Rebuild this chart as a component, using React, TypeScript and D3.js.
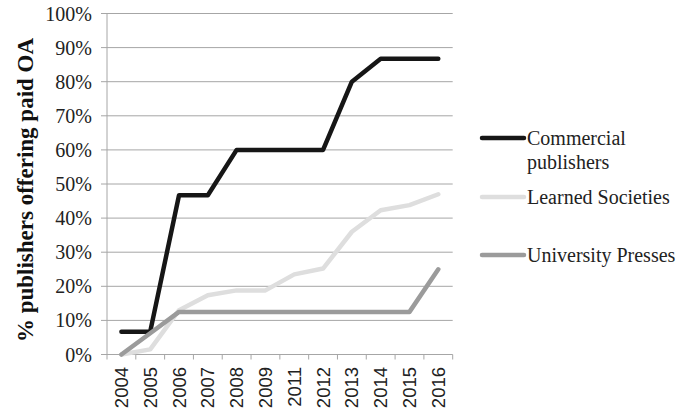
import React from 'react';
import * as d3 from 'd3';

const years = ['2004', '2005', '2006', '2007', '2008', '2009', '2011', '2012', '2013', '2014', '2015', '2016'];
const commercial = [6.7, 6.7, 46.7, 46.7, 60, 60, 60, 60, 80, 86.7, 86.7, 86.7];
const learned = [0, 1.5, 13, 17.4, 18.8, 18.8, 23.5, 25.2, 36, 42.3, 43.8, 47];
const university = [0, 6.25, 12.5, 12.5, 12.5, 12.5, 12.5, 12.5, 12.5, 12.5, 12.5, 25];
const yTicks = [0, 10, 20, 30, 40, 50, 60, 70, 80, 90, 100];

const series = [
  { name: ['Commercial', 'publishers'], values: commercial, color: '#161616', ly: 138 },
  { name: ['Learned Societies'], values: learned, color: '#dedede', ly: 197 },
  { name: ['University Presses'], values: university, color: '#9b9b9b', ly: 255 },
];

const W = 687;
const H = 415;
const left = 107;
const right = 452.7;
const top = 13.5;
const bottom = 354.5;
const serif = '"Liberation Serif"';

export default function App() {
  const x = d3.scaleBand<string>().domain(years).range([left, right]);
  const y = d3.scaleLinear().domain([0, 100]).range([bottom, top]);
  const line = d3.line<number>()
    .x((_, i) => (x(years[i]) ?? 0) + x.bandwidth() / 2)
    .y(d => y(d));
  const gridColor = '#a6a6a6';

  return (
    <svg width={W} height={H} style={{ position: 'absolute', left: 0, top: 0, background: '#fff' }}>
      {/* gridlines + y ticks */}
      {yTicks.map(t => (
        <g key={t}>
          <line x1={left - 6} x2={right} y1={y(t)} y2={y(t)} stroke={gridColor} strokeWidth={1} />
          <text x={92} y={y(t)} dy="0.35em" textAnchor="end"
            style={{ font: `20px ${serif}`, fill: '#222' }}>{t}%</text>
        </g>
      ))}
      <line x1={left} x2={left} y1={top} y2={bottom} stroke={gridColor} strokeWidth={1} />
      {/* x ticks */}
      {years.map(yr => (
        <line key={yr} x1={x(yr) ?? 0} x2={x(yr) ?? 0} y1={bottom} y2={bottom + 5} stroke={gridColor} />
      ))}
      <line x1={right} x2={right} y1={bottom} y2={bottom + 5} stroke={gridColor} />
      {years.map(yr => {
        const cx = (x(yr) ?? 0) + x.bandwidth() / 2;
        return (
          <text key={yr} transform={`translate(${cx},${367}) rotate(-90)`} dy="0.35em" textAnchor="end"
            style={{ font: '18.5px "Liberation Sans"', fill: '#222' }}>{yr}</text>
        );
      })}
      {/* y title */}
      <text transform={`translate(25,${(top + bottom) / 2 + 6}) rotate(-90)`} dy="0.35em" textAnchor="middle"
        style={{ font: `bold 23px ${serif}`, fill: '#111' }}>% publishers offering paid OA</text>
      {/* lines */}
      {series.map(s => (
        <path key={s.name[0]} d={line(s.values) ?? ''} fill="none" stroke={s.color} strokeWidth={4.5}
          strokeLinejoin="round" strokeLinecap="round" />
      ))}
      {/* legend */}
      {series.map(s => (
        <g key={s.name[0]}>
          <line x1={482} x2={524} y1={s.ly} y2={s.ly} stroke={s.color} strokeWidth={4.5} strokeLinecap="round" />
          {s.name.map((n, j) => (
            <text key={n} x={527} y={s.ly + j * 24} dy="0.35em"
              style={{ font: `20px ${serif}`, fill: '#222' }}>{n}</text>
          ))}
        </g>
      ))}
    </svg>
  );
}
